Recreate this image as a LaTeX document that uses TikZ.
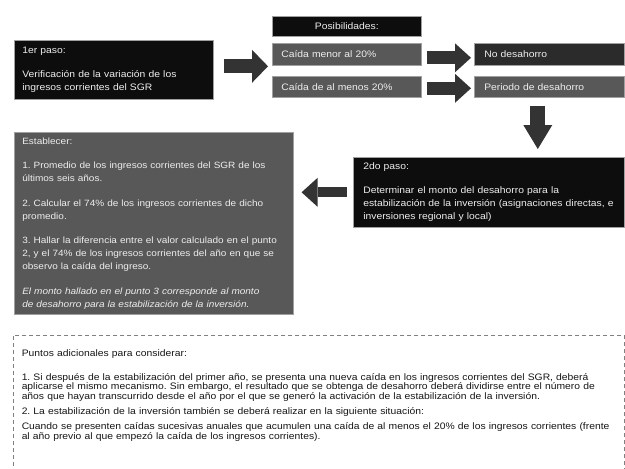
\documentclass[tikz,border=0pt]{standalone}
\usepackage{fontspec}
\setmainfont{Liberation Sans}[FakeStretch=1.1]
\usetikzlibrary{arrows.meta}
\frenchspacing

\definecolor{boxblack}{HTML}{0D0D0D}
\definecolor{boxdark}{HTML}{2B2B2B}
\definecolor{boxgray}{HTML}{585858}
\definecolor{arrowgray}{HTML}{333333}
\definecolor{boxline}{HTML}{A0A0A0}
\definecolor{boxtext}{HTML}{EEEEEE}
\definecolor{notetext}{HTML}{161616}

\tikzset{
  box/.style={draw=boxline, line width=0.6pt, text=boxtext, anchor=north west,
    inner xsep=8pt, inner ysep=1pt, align=left,
    font=\fontsize{9.4}{13}\selectfont},
  bigarrow/.style={arrowgray, line width=#1},
  bigarrow/.default=14pt,
}

\begin{document}
\begin{tikzpicture}[x=1pt, y=-1pt]
  \useasboundingbox (0,0) rectangle (625,469);
  \fill [white] (0,0) rectangle (625,469);

  % boxes
  \node [box, fill=boxblack, minimum width=199pt, minimum height=59pt, text width=183pt] (Paso1) at (14,40)
    {1er paso:\\[11pt]Verificación de la variación de los\\ingresos corrientes del SGR};
  \node [box, fill=boxblack, minimum width=149pt, minimum height=20pt, text width=133pt, align=center] (Pos) at (272,16) {Posibilidades:};
  \node [box, fill=boxgray, minimum width=149pt, minimum height=22pt, text width=131pt, inner xsep=9pt] (C1) at (272,43) {Caída menor al 20\%};
  \node [box, fill=boxgray, minimum width=149pt, minimum height=21pt, text width=131pt, inner xsep=9pt] (C2) at (272,76) {Caída de al menos 20\%};
  \node [box, fill=boxdark, minimum width=150pt, minimum height=22pt, text width=130pt, inner xsep=10pt] (R1) at (474,43) {No desahorro};
  \node [box, fill=boxgray, minimum width=150pt, minimum height=21pt, text width=130pt, inner xsep=10pt] (R2) at (474,76) {Periodo de desahorro};
  \node [box, fill=boxblack, minimum width=271pt, minimum height=70pt, text width=251pt, inner xsep=10pt] (Paso2) at (353,157)
    {2do paso:\\[11pt]Determinar el monto del desahorro para la\\estabilización de la inversión (asignaciones directas, e\\inversiones regional y local)};
  \node [box, fill=boxgray, minimum width=279pt, minimum height=182pt, text width=263pt,
    font=\fontsize{9.1}{13}\selectfont] (Est) at (14,132)
    {Establecer:\\[11.5pt]
     1. Promedio de los ingresos corrientes del SGR de los\\últimos seis años.\\[11.5pt]
     2. Calcular el 74\% de los ingresos corrientes de dicho\\promedio.\\[11.5pt]
     3. Hallar la diferencia entre el valor calculado en el punto\\2, y el 74\% de los ingresos corrientes del año en que se\\observo la caída del ingreso.\\[11.5pt]
     \textit{El monto hallado en el punto 3 corresponde al monto}\\\textit{de desahorro para la estabilización de la inversión.}};

  % arrows
  \draw [bigarrow, -{Triangle[width=33pt, length=16pt, line width=0pt]}, shorten <=10pt, shorten >=4pt]
    ([yshift=3.5pt]Paso1.east) -- ([yshift=3.5pt]Paso1.east -| C1.west);
  \draw [bigarrow=13pt, -{Triangle[width=29pt, length=16pt, line width=0pt]}, shorten <=5pt, shorten >=3pt]
    ([yshift=-3.5pt]C1.east) -- ([yshift=-3.5pt]R1.west);
  \draw [bigarrow=13pt, -{Triangle[width=29pt, length=16pt, line width=0pt]}, shorten <=5pt, shorten >=3pt]
    ([yshift=-1.5pt]C2.east) -- ([yshift=-1.5pt]R2.west);
  \draw [bigarrow=15pt, -{Triangle[width=29pt, length=24pt, line width=0pt]}, shorten <=8pt, shorten >=8pt]
    ([xshift=-11.5pt]R2.south) -- ([xshift=-11.5pt]R2.south |- Paso2.north);
  \draw [bigarrow=10pt, -{Triangle[width=29pt, length=16pt, line width=0pt]}, shorten <=6pt, shorten >=8pt]
    (Paso2.west) -- (Paso2.west -| Est.east);

  % additional notes
  \node [draw=gray, line width=0.5pt, dash pattern=on 4pt off 3pt, anchor=north west, text=notetext,
    text width=594pt, inner xsep=8.5pt, inner ysep=9pt, text height=12pt, text depth=140pt,
    font=\fontsize{9.4}{9.7}\selectfont] (Notas) at (13,335)
    {\parindent=0pt\parskip=5.3pt\rightskip=6pt\lineskiplimit=-4pt\hyphenpenalty=10000
     Puntos adicionales para considerar:\par\vspace{9pt}
     1. Si después de la estabilización del primer año, se presenta una nueva caída en los ingresos corrientes del SGR, deberá\linebreak
     aplicarse el mismo mecanismo. Sin embargo, el resultado que se obtenga de desahorro deberá dividirse entre el número de\linebreak
     años que hayan transcurrido desde el año por el que se generó la activación de la estabilización de la inversión.\par
     2. La estabilización de la inversión también se deberá realizar en la siguiente situación:\par
     Cuando se presenten caídas sucesivas anuales que acumulen una caída de al menos el 20\% de los ingresos corrientes (frente\linebreak
     al año previo al que empezó la caída de los ingresos corrientes).\par};
\end{tikzpicture}
\end{document}
